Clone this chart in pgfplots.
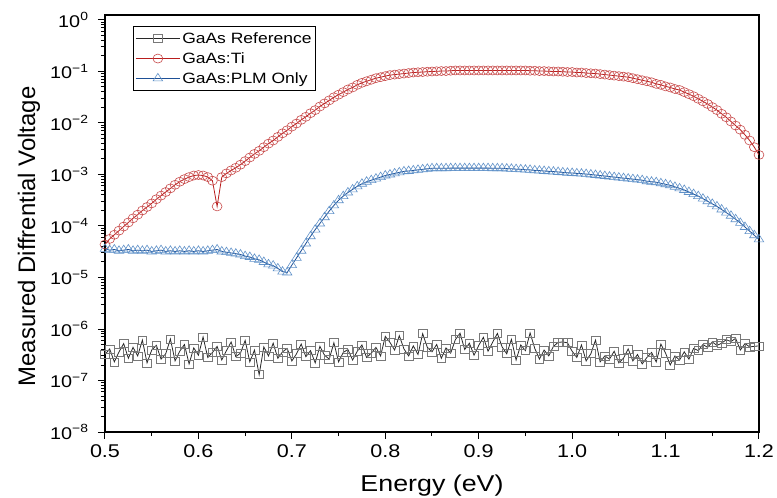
\documentclass[border=0pt]{standalone}
\usepackage{fontspec}
\setmainfont[FakeStretch=1.17]{Liberation Sans}
\newfontfamily\labelfont{Liberation Sans}
\usepackage{pgfplots}
\pgfplotsset{compat=1.18}
\definecolor{refline}{RGB}{40,40,40}
\definecolor{refmark}{RGB}{120,120,120}
\definecolor{tiline}{RGB}{185,30,30}
\definecolor{timark}{RGB}{200,75,75}
\definecolor{plmline}{RGB}{30,80,150}
\definecolor{plmmark}{RGB}{95,145,200}
\begin{document}
\begin{tikzpicture}
\begin{axis}[
    scale only axis,
    width=654bp, height=417bp,
    ymode=log,
    xmin=0.5, xmax=1.2,
    ymin=1e-8, ymax=1.25,
    axis line style={line width=1.3bp},
    tick style={line width=1bp, black},
    tick align=outside,
    xtick pos=bottom, ytick pos=left,
    major tick length=7bp, minor tick length=4bp,
    xtick={0.5,0.6,...,1.21},
    minor x tick num=1,
    ytick={1e-8,1e-7,1e-6,1e-5,1e-4,1e-3,1e-2,1e-1,1},
    yticklabels={10\textsuperscript{−8},10\textsuperscript{−7},10\textsuperscript{−6},10\textsuperscript{−5},10\textsuperscript{−4},10\textsuperscript{−3},10\textsuperscript{−2},10\textsuperscript{−1},10\textsuperscript{0}},
    /pgf/number format/assume math mode=true,
    xticklabel style={/pgf/number format/fixed, /pgf/number format/fixed zerofill, /pgf/number format/precision=1, font=\fontsize{18.5}{20}\selectfont, yshift=-2bp},
    yticklabel style={font=\fontsize{17}{19}\selectfont, xshift=-6bp},
    xlabel={Energy (eV)},
    ylabel={Measured Diffrential Voltage},
    every axis x label/.style={at={(axis description cs:0.5,-0.143)}, anchor=base, font=\fontsize{23}{26}\selectfont},
    every axis y label/.style={at={(axis description cs:-0.107,0.469)}, rotate=90, anchor=base, font=\labelfont\fontsize{24}{27}\selectfont},
    legend style={at={(rel axis cs:0.043,0.973)}, anchor=north west, draw=black, line width=0.7bp, fill=white,
        font=\fontsize{15}{16}\selectfont, row sep=3.5bp, inner xsep=2bp, inner ysep=4bp,
        /tikz/every even column/.append style={column sep=5bp}},
    legend cell align=left,
    legend image code/.code={\draw[mark repeat=2, mark phase=2] plot coordinates {(0bp,0bp) (22bp,0bp) (44bp,0bp)};},
]
\addplot[color=refline, line width=0.8bp, mark=square, mark size=4bp, mark options={draw=refmark, fill=none, line width=0.7bp, solid, xscale=1.1}] coordinates {
(0.500,3.2e-7) (0.505,4.1e-7) (0.510,2.3e-7) (0.515,3.6e-7) (0.520,5.2e-7) (0.525,2.7e-7) (0.530,4.4e-7) (0.535,3.0e-7)
(0.540,6.1e-7) (0.545,2.2e-7) (0.550,3.9e-7) (0.555,4.8e-7) (0.560,2.6e-7) (0.565,3.3e-7) (0.570,6.4e-7) (0.575,2.4e-7)
(0.580,3.7e-7) (0.585,5.0e-7) (0.590,2.1e-7) (0.595,4.3e-7) (0.600,3.1e-7) (0.605,7.0e-7) (0.610,2.8e-7) (0.615,3.5e-7)
(0.620,4.6e-7) (0.625,2.5e-7) (0.630,3.8e-7) (0.635,5.6e-7) (0.640,2.9e-7) (0.645,3.4e-7) (0.650,6.0e-7) (0.655,2.3e-7)
(0.660,3.9e-7) (0.665,1.3e-7) (0.670,4.5e-7) (0.675,3.0e-7) (0.680,5.3e-7) (0.685,2.7e-7) (0.690,3.6e-7) (0.695,4.2e-7)
(0.700,2.4e-7) (0.705,3.3e-7) (0.710,5.1e-7) (0.715,2.9e-7) (0.720,3.8e-7) (0.725,2.2e-7) (0.730,4.6e-7) (0.735,3.1e-7)
(0.740,2.6e-7) (0.745,5.4e-7) (0.750,2.3e-7) (0.755,3.5e-7) (0.760,4.0e-7) (0.765,2.5e-7) (0.770,3.7e-7) (0.775,4.9e-7)
(0.780,2.8e-7) (0.785,3.4e-7) (0.790,4.4e-7) (0.795,3.0e-7) (0.800,7.2e-7) (0.805,5.5e-7) (0.810,3.9e-7) (0.815,7.4e-7)
(0.820,4.1e-7) (0.825,3.0e-7) (0.830,4.7e-7) (0.835,3.2e-7) (0.840,8.1e-7) (0.845,4.4e-7) (0.850,3.6e-7) (0.855,5.0e-7)
(0.860,2.7e-7) (0.865,4.3e-7) (0.870,3.4e-7) (0.875,6.2e-7) (0.880,8.3e-7) (0.885,4.0e-7) (0.890,5.3e-7) (0.895,3.1e-7)
(0.900,4.8e-7) (0.905,6.9e-7) (0.910,3.7e-7) (0.915,5.6e-7) (0.920,8.2e-7) (0.925,4.5e-7) (0.930,3.3e-7) (0.935,6.3e-7)
(0.940,2.5e-7) (0.945,4.9e-7) (0.950,3.8e-7) (0.955,8.4e-7) (0.960,4.2e-7) (0.965,2.6e-7) (0.970,3.9e-7) (0.975,3.0e-7)
(0.980,4.6e-7) (0.985,5.5e-7) (0.990,5.6e-7) (0.995,5.4e-7) (1.000,3.7e-7) (1.005,2.8e-7) (1.010,4.9e-7) (1.015,2.4e-7)
(1.020,3.3e-7) (1.025,6.1e-7) (1.030,2.3e-7) (1.035,3.0e-7) (1.040,2.6e-7) (1.045,3.7e-7) (1.050,2.2e-7) (1.055,2.7e-7)
(1.060,4.1e-7) (1.065,2.4e-7) (1.070,3.2e-7) (1.075,2.1e-7) (1.080,2.8e-7) (1.085,3.5e-7) (1.090,2.3e-7) (1.095,5.1e-7)
(1.100,3.4e-7) (1.105,2.0e-7) (1.110,3.0e-7) (1.115,2.5e-7) (1.120,3.6e-7) (1.125,2.6e-7) (1.130,4.2e-7) (1.135,3.8e-7)
(1.140,5.0e-7) (1.145,4.4e-7) (1.150,5.6e-7) (1.155,4.8e-7) (1.160,5.3e-7) (1.165,6.2e-7) (1.170,5.7e-7) (1.175,6.6e-7)
(1.180,3.9e-7) (1.185,5.2e-7) (1.190,4.5e-7) (1.195,4.6e-7) (1.200,4.7e-7)
};
\addlegendentry{GaAs Reference}
\addplot[color=tiline, line width=0.8bp, mark=o, mark size=4.5bp, mark options={draw=timark, fill=none, line width=0.6bp, solid, xscale=1.1}] coordinates {
(0.500,4.37e-5) (0.505,5.62e-5) (0.510,6.76e-5) (0.515,8.13e-5) (0.520,9.77e-5) (0.525,1.17e-4) (0.530,1.41e-4) (0.535,1.66e-4)
(0.540,2.00e-4) (0.545,2.34e-4) (0.550,2.75e-4) (0.555,3.31e-4) (0.560,3.89e-4) (0.565,4.57e-4) (0.570,5.37e-4) (0.575,6.31e-4)
(0.580,7.24e-4) (0.585,8.13e-4) (0.590,8.91e-4) (0.595,9.55e-4) (0.600,9.77e-4) (0.605,9.55e-4) (0.610,8.91e-4) (0.615,7.59e-4)
(0.620,2.40e-4) (0.625,8.91e-4) (0.630,1.05e-3) (0.635,1.20e-3) (0.640,1.35e-3) (0.645,1.55e-3) (0.650,1.82e-3) (0.655,2.14e-3)
(0.660,2.51e-3) (0.665,2.88e-3) (0.670,3.39e-3) (0.675,3.98e-3) (0.680,4.57e-3) (0.685,5.37e-3) (0.690,6.31e-3) (0.695,7.24e-3)
(0.700,8.51e-3) (0.705,9.77e-3) (0.710,1.15e-2) (0.715,1.32e-2) (0.720,1.55e-2) (0.725,1.78e-2) (0.730,2.09e-2) (0.735,2.40e-2)
(0.740,2.75e-2) (0.745,3.16e-2) (0.750,3.55e-2) (0.755,3.98e-2) (0.760,4.47e-2) (0.765,4.90e-2) (0.770,5.50e-2) (0.775,6.03e-2)
(0.780,6.46e-2) (0.785,6.92e-2) (0.790,7.41e-2) (0.795,7.76e-2) (0.800,8.13e-2) (0.805,8.51e-2) (0.810,8.71e-2) (0.815,8.91e-2)
(0.820,9.12e-2) (0.825,9.33e-2) (0.830,9.55e-2) (0.835,9.66e-2) (0.840,9.77e-2) (0.845,9.89e-2) (0.850,1.00e-1) (0.855,1.01e-1)
(0.860,1.02e-1) (0.865,1.02e-1) (0.870,1.035e-1) (0.875,1.047e-1) (0.880,1.047e-1) (0.885,1.047e-1) (0.890,1.047e-1) (0.895,1.047e-1)
(0.900,1.047e-1) (0.905,1.047e-1) (0.910,1.047e-1) (0.915,1.047e-1) (0.920,1.047e-1) (0.925,1.047e-1) (0.930,1.047e-1) (0.935,1.047e-1)
(0.940,1.047e-1) (0.945,1.047e-1) (0.950,1.047e-1) (0.955,1.035e-1) (0.960,1.035e-1) (0.965,1.02e-1) (0.970,1.02e-1) (0.975,1.01e-1)
(0.980,1.00e-1) (0.985,1.00e-1) (0.990,9.89e-2) (0.995,9.77e-2) (1.000,9.77e-2) (1.005,9.55e-2) (1.010,9.55e-2) (1.015,9.33e-2)
(1.020,9.23e-2) (1.025,9.12e-2) (1.030,8.91e-2) (1.035,8.71e-2) (1.040,8.51e-2) (1.045,8.32e-2) (1.050,8.13e-2) (1.055,7.94e-2)
(1.060,7.76e-2) (1.065,7.41e-2) (1.070,7.08e-2) (1.075,6.76e-2) (1.080,6.46e-2) (1.085,6.17e-2) (1.090,5.75e-2) (1.095,5.50e-2)
(1.100,5.13e-2) (1.105,4.90e-2) (1.110,4.57e-2) (1.115,4.37e-2) (1.120,3.98e-2) (1.125,3.63e-2) (1.130,3.31e-2) (1.135,2.95e-2)
(1.140,2.63e-2) (1.145,2.34e-2) (1.150,2.04e-2) (1.155,1.78e-2) (1.160,1.51e-2) (1.165,1.29e-2) (1.170,1.07e-2) (1.175,8.91e-3)
(1.180,7.41e-3) (1.185,5.89e-3) (1.190,4.57e-3) (1.195,3.39e-3) (1.200,2.40e-3)
};
\addlegendentry{GaAs:Ti}
\addplot[color=plmline, line width=0.8bp, mark=triangle, mark size=5bp, mark options={draw=plmmark, fill=none, line width=0.6bp, solid, xscale=1.1}] coordinates {
(0.500,3.6e-5) (0.505,3.4e-5) (0.510,3.5e-5) (0.515,3.3e-5) (0.520,3.4e-5) (0.525,3.5e-5) (0.530,3.3e-5) (0.535,3.4e-5)
(0.540,3.3e-5) (0.545,3.4e-5) (0.550,3.2e-5) (0.555,3.3e-5) (0.560,3.4e-5) (0.565,3.2e-5) (0.570,3.3e-5) (0.575,3.2e-5)
(0.580,3.3e-5) (0.585,3.2e-5) (0.590,3.3e-5) (0.595,3.2e-5) (0.600,3.3e-5) (0.605,3.2e-5) (0.610,3.3e-5) (0.615,3.4e-5)
(0.620,3.5e-5) (0.625,3.2e-5) (0.630,3.1e-5) (0.635,3.0e-5) (0.640,2.9e-5) (0.645,2.8e-5) (0.650,2.6e-5) (0.655,2.5e-5)
(0.660,2.3e-5) (0.665,2.2e-5) (0.670,2.0e-5) (0.675,1.8e-5) (0.680,1.7e-5) (0.685,1.5e-5) (0.690,1.3e-5) (0.695,1.25e-5)
(0.700,1.74e-5) (0.705,2.40e-5) (0.710,3.31e-5) (0.715,4.57e-5) (0.720,6.31e-5) (0.725,8.51e-5) (0.730,1.12e-4) (0.735,1.48e-4)
(0.740,1.95e-4) (0.745,2.51e-4) (0.750,3.16e-4) (0.755,3.80e-4) (0.760,4.47e-4) (0.765,5.13e-4) (0.770,5.89e-4) (0.775,6.61e-4)
(0.780,7.24e-4) (0.785,7.76e-4) (0.790,8.32e-4) (0.795,8.91e-4) (0.800,9.55e-4) (0.805,1.00e-3) (0.810,1.05e-3) (0.815,1.10e-3)
(0.820,1.15e-3) (0.825,1.17e-3) (0.830,1.20e-3) (0.835,1.23e-3) (0.840,1.26e-3) (0.845,1.29e-3) (0.850,1.32e-3) (0.855,1.32e-3)
(0.860,1.32e-3) (0.865,1.32e-3) (0.870,1.33e-3) (0.875,1.33e-3) (0.880,1.33e-3) (0.885,1.33e-3) (0.890,1.33e-3) (0.895,1.33e-3)
(0.900,1.33e-3) (0.905,1.33e-3) (0.910,1.33e-3) (0.915,1.32e-3) (0.920,1.32e-3) (0.925,1.32e-3) (0.930,1.30e-3) (0.935,1.29e-3)
(0.940,1.27e-3) (0.945,1.26e-3) (0.950,1.24e-3) (0.955,1.23e-3) (0.960,1.20e-3) (0.965,1.19e-3) (0.970,1.17e-3) (0.975,1.15e-3)
(0.980,1.14e-3) (0.985,1.12e-3) (0.990,1.10e-3) (0.995,1.08e-3) (1.000,1.07e-3) (1.005,1.05e-3) (1.010,1.04e-3) (1.015,1.02e-3)
(1.020,1.00e-3) (1.025,9.77e-4) (1.030,9.55e-4) (1.035,9.33e-4) (1.040,9.12e-4) (1.045,8.91e-4) (1.050,8.71e-4) (1.055,8.51e-4)
(1.060,8.32e-4) (1.065,8.13e-4) (1.070,7.94e-4) (1.075,7.76e-4) (1.080,7.41e-4) (1.085,7.24e-4) (1.090,7.08e-4) (1.095,6.76e-4)
(1.100,6.46e-4) (1.105,6.17e-4) (1.110,5.75e-4) (1.115,5.37e-4) (1.120,5.01e-4) (1.125,4.57e-4) (1.130,4.17e-4) (1.135,3.80e-4)
(1.140,3.39e-4) (1.145,3.02e-4) (1.150,2.69e-4) (1.155,2.40e-4) (1.160,2.09e-4) (1.165,1.82e-4) (1.170,1.58e-4) (1.175,1.35e-4)
(1.180,1.15e-4) (1.185,9.55e-5) (1.190,7.94e-5) (1.195,6.61e-5) (1.200,5.50e-5)
};
\addlegendentry{GaAs:PLM Only}
\end{axis}
\pgfresetboundingbox
\useasboundingbox (-105bp,-66bp) rectangle (672bp,432bp);
\end{tikzpicture}
\end{document}
